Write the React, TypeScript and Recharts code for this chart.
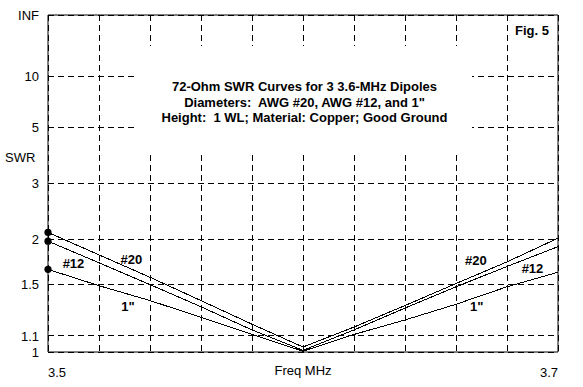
import React from 'react'
import { LineChart, Line, XAxis, YAxis, CartesianGrid, ReferenceArea, ReferenceDot, Label } from 'recharts'

// frequency grid, 0.02 MHz steps across the band
const freqMHz = [3.5, 3.52, 3.54, 3.56, 3.58, 3.6, 3.62, 3.64, 3.66, 3.68, 3.7]

// SWR at 72 ohms for each conductor size
const swrAwg20 = [2.1, 1.81, 1.57, 1.36, 1.18, 1.03, 1.16, 1.32, 1.51, 1.73, 2.02]
const swrAwg12 = [1.98, 1.72, 1.5, 1.31, 1.14, 1.01, 1.14, 1.3, 1.48, 1.68, 1.91]
const swrOneInch = [1.65, 1.49, 1.36, 1.23, 1.11, 1.005, 1.11, 1.21, 1.33, 1.48, 1.62]

// SWR axis ticks
const swrTicks = [1, 1.1, 1.5, 2, 3, 5, 10, Infinity]
const swrTickLabels = ['1', '1.1', '1.5', '2', '3', '5', '10', 'INF']

// curve tags: [freq, swr, text]
const curveTags: [number, number, string][] = [
  [3.5327, 1.757, '#20'],
  [3.51, 1.717, '#12'],
  [3.5314, 1.312, '1"'],
  [3.6678, 1.751, '#20'],
  [3.69, 1.664, '#12'],
  [3.6681, 1.31, '1"'],
]

const titleLines = [
  '72-Ohm SWR Curves for 3 3.6-MHz Dipoles',
  'Diameters:  AWG #20, AWG #12, and 1"',
  'Height:  1 WL; Material: Copper; Good Ground',
]

// the axis is linear in reflection coefficient
const toRho = (swr: number) => (isFinite(swr) ? (swr - 1) / (swr + 1) : 1)

const rows = freqMHz.map((f, i) => ({
  f,
  awg20: toRho(swrAwg20[i]),
  awg12: toRho(swrAwg12[i]),
  oneInch: toRho(swrOneInch[i]),
}))

// band-edge markers at the first point of each curve
const startPoints = [swrAwg20[0], swrAwg12[0], swrOneInch[0]]

const FONT = '"Liberation Sans", Arial, sans-serif'

const FreqTick = (props: any) => {
  const { x, y, index, payload } = props
  const last = freqMHz.length - 1
  if (index !== 0 && index !== last) return <g />
  return (
    <text
      x={x}
      y={y + 18}
      textAnchor={index === 0 ? 'start' : 'end'}
      dominantBaseline="central"
      fontSize={13}
      fontFamily={FONT}
      fill="#000"
    >
      {payload.value.toFixed(1)}
    </text>
  )
}

export default function App() {
  return (
    <div style={{ position: 'absolute', left: 0, top: 0, width: 583, height: 387, background: '#fff' }}>
      <style>{`.swr line, .swr rect, .swr .recharts-line-curve { shape-rendering: crispEdges; }`}</style>
      <LineChart
        className="swr"
        width={583}
        height={387}
        data={rows}
        margin={{ top: 15, right: 25, left: 0, bottom: 0 }}
      >
        <CartesianGrid stroke="#000" strokeDasharray="6 4" />
        <XAxis
          dataKey="f"
          type="number"
          domain={[3.5, 3.7]}
          ticks={freqMHz}
          height={35}
          axisLine={false}
          tickLine={false}
          tickSize={0}
          tick={<FreqTick />}
          interval={0}
        >
          <Label
            content={({ viewBox }: any) => (
              <text
                x={viewBox.x + viewBox.width / 2}
                y={viewBox.y + 18}
                textAnchor="middle"
                dominantBaseline="central"
                fontSize={13}
                fontFamily={FONT}
                fill="#000"
              >
                Freq MHz
              </text>
            )}
          />
        </XAxis>
        <YAxis
          type="number"
          domain={[0, 1]}
          ticks={swrTicks.map(toRho)}
          tickFormatter={(_v: number, i: number) => swrTickLabels[i]}
          width={48}
          axisLine={false}
          tickLine={false}
          tickSize={0}
          tickMargin={9}
          interval={0}
          tick={{ fill: '#000', fontSize: 13, fontFamily: FONT }}
        >
          <Label
            content={({ viewBox }: any) => (
              <text x={viewBox.x + 5} y={157} dominantBaseline="central" fontSize={13} fontFamily={FONT} fill="#000">
                SWR
              </text>
            )}
          />
        </YAxis>
        <ReferenceArea x1={3.5} x2={3.7} y1={0} y2={1} fill="none" stroke="#000" strokeWidth={1} />
        <Line dataKey="awg20" type="linear" stroke="#000" strokeWidth={1} dot={false} isAnimationActive={false} />
        <Line dataKey="awg12" type="linear" stroke="#000" strokeWidth={1} dot={false} isAnimationActive={false} />
        <Line dataKey="oneInch" type="linear" stroke="#000" strokeWidth={1} dot={false} isAnimationActive={false} />
        {startPoints.map((swr, i) => (
          <ReferenceDot
            key={`s${i}`}
            x={freqMHz[0]}
            y={toRho(swr)}
            r={3.6}
            fill="#000"
            stroke="none"
            ifOverflow="visible"
          />
        ))}
        {curveTags.map(([f, swr, text], i) => (
          <ReferenceDot key={i} x={f} y={toRho(swr)} r={0} stroke="none" fill="none">
            <Label value={text} position="center" fill="#000" fontSize={13} fontWeight="bold" fontFamily={FONT} />
          </ReferenceDot>
        ))}
      </LineChart>
      <div
        style={{
          position: 'absolute',
          left: 137,
          top: 46,
          width: 335,
          height: 106,
          background: '#fff',
          boxSizing: 'border-box',
          paddingTop: 33,
          fontFamily: FONT,
          fontWeight: 'bold',
          fontSize: 13,
          lineHeight: '15.5px',
          textAlign: 'center',
          whiteSpace: 'pre',
          color: '#000',
        }}
      >
        {titleLines.map((t) => (
          <div key={t}>{t}</div>
        ))}
      </div>
      <div
        style={{
          position: 'absolute',
          left: 515,
          top: 23,
          fontFamily: FONT,
          fontWeight: 'bold',
          fontSize: 13,
          lineHeight: '16px',
          color: '#000',
        }}
      >
        Fig. 5
      </div>
    </div>
  )
}
